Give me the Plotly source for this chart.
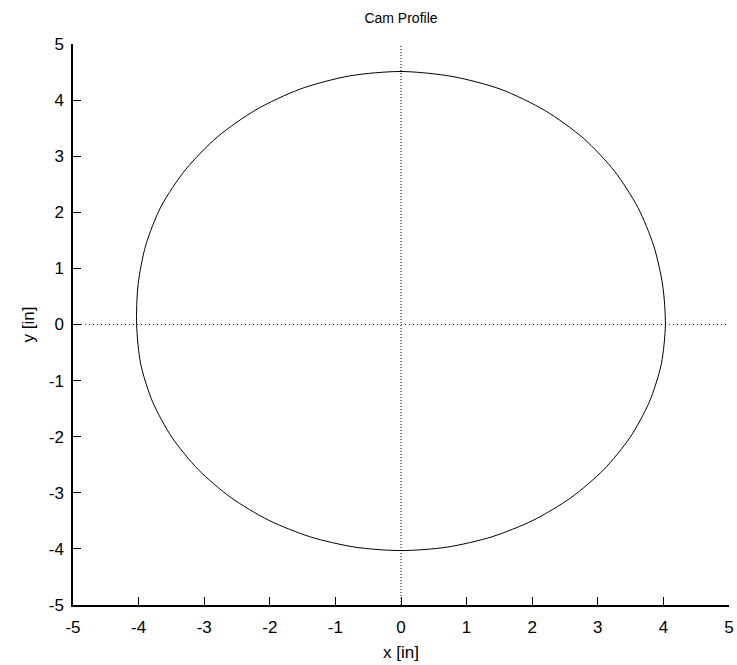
import numpy as np
import plotly.graph_objects as go

# Cam profile: radius (in) read at polar angles (deg)
angles_deg = [0, 10, 20, 30, 40, 50, 60, 70, 80, 90, 100, 110, 120, 130, 140, 150, 160, 170,
              180, 190, 200, 210, 220, 230, 240, 250, 260, 270, 280, 290, 300, 310, 320, 330, 340, 350, 360]
radius_in = [4.03, 4.05, 4.10, 4.17, 4.25, 4.33, 4.40, 4.46, 4.49, 4.51, 4.50, 4.47, 4.42, 4.36, 4.29, 4.22, 4.14, 4.07,
             4.03, 4.03, 4.03, 4.03, 4.03, 4.03, 4.03, 4.03, 4.03, 4.03, 4.03, 4.03, 4.03, 4.03, 4.03, 4.03, 4.03, 4.03, 4.03]

tick_vals = [-5, -4, -3, -2, -1, 0, 1, 2, 3, 4, 5]
tick_text = [str(v) for v in tick_vals]

th = np.deg2rad(np.array(angles_deg, dtype=float))
r = np.array(radius_in, dtype=float)
x = r * np.cos(th)
y = r * np.sin(th)

FONT = "Liberation Sans, Arial, sans-serif"

fig = go.Figure()
fig.add_trace(go.Scatter(x=x, y=y, mode="lines", line=dict(color="black", width=1, shape="spline", smoothing=0.8),
                         hoverinfo="skip", showlegend=False))

# dotted zero axes
fig.add_shape(type="line", xref="x", yref="y", x0=-5, x1=5, y0=0, y1=0,
              line=dict(color="#333333", width=1, dash="1px,3px"), layer="below")
fig.add_shape(type="line", xref="x", yref="y", x0=0, x1=0, y0=-5, y1=5,
              line=dict(color="black", width=1, dash="1px,2px"), layer="below")

axis_common = dict(
    range=[-5, 5], tickmode="array", tickvals=tick_vals, ticktext=tick_text,
    showgrid=False, zeroline=False, showline=True, linecolor="black", linewidth=1.5,
    ticks="inside", ticklen=8, tickwidth=1, tickcolor="black", automargin=False,
    tickfont=dict(family=FONT, size=17, color="black"), fixedrange=True,
)

W, H = 737, 665
fig.update_layout(
    width=W, height=H,
    margin=dict(l=73, r=8, t=44, b=60, autoexpand=False),
    paper_bgcolor="white", plot_bgcolor="white",
    font=dict(family=FONT, size=17, color="black"),
    title=dict(text="Cam Profile", x=0.5, xref="paper", xanchor="center",
               y=1 - 18 / H, yref="container", yanchor="middle",
               font=dict(family=FONT, size=14, color="black")),
    xaxis=dict(**axis_common, ticklabelstandoff=6),
    yaxis=dict(**axis_common, ticklabelstandoff=4),
    showlegend=False,
)

fig.add_annotation(text="x [in]", xref="paper", yref="paper", x=0.5, y=0, yanchor="middle",
                   yshift=-47, showarrow=False, font=dict(family=FONT, size=17, color="black"))
fig.add_annotation(text="y [in]", xref="paper", yref="paper", x=0, y=0.5, xanchor="center",
                   xshift=-45, textangle=-90, showarrow=False, font=dict(family=FONT, size=17, color="black"))

# remove the default page margin so the figure fills the window exactly
fig.write_html("out.html", config={"displayModeBar": False},
               post_script="document.body.style.margin='0';document.body.style.overflow='hidden';")
